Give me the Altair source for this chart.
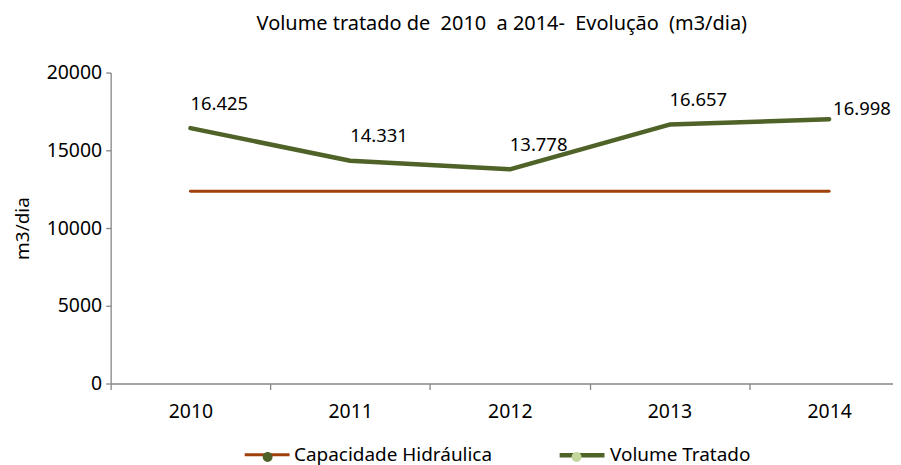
import altair as alt
import pandas as pd

years = [2010, 2011, 2012, 2013, 2014]
volume_tratado = [16425, 14331, 13778, 16657, 16998]
capacidade_hidraulica = [12370, 12370, 12370, 12370, 12370]
series = ["Capacidade Hidráulica", "Volume Tratado"]
line_colors = ["#A0400C", "#4F6228"]
marker_colors = ["#4F6228", "#C3D69B"]
y_ticks = [0, 5000, 10000, 15000, 20000]
x_boundaries = [2009.5, 2010.5, 2011.5, 2012.5, 2013.5]
title_text = "Volume tratado de\u00a0 2010\u00a0 a 2014-\u00a0 Evolução\u00a0 (m3/dia)"

FONT = "Noto Sans"
AXIS_GRAY = "#868686"
ZW = "\u200b"  # zero-width mark keeps the marker legend separate from the line legend

rows = []
for y, v in zip(years, capacidade_hidraulica):
    rows.append({"ano": y, "valor": v, "serie": series[0]})
for y, v in zip(years, volume_tratado):
    rows.append({"ano": y, "valor": v, "serie": series[1]})
df = pd.DataFrame(rows)
df["serie2"] = df["serie"] + ZW
df["rotulo"] = df["valor"].map(lambda v: f"{v:,}".replace(",", "."))

xscale = alt.Scale(domain=[2009.5, 2014.4], nice=False, zero=False)
yscale = alt.Scale(domain=[0, 20000], nice=False)

x_enc = alt.X(
    "ano:Q", scale=xscale,
    axis=alt.Axis(
        values=sorted(x_boundaries + years), title=None, grid=False,
        labelExpr="datum.value % 1 == 0 ? format(datum.value, 'd') : ''",
        tickSize=6, tickOpacity={"condition": {"test": "datum.value % 1 == 0", "value": 0}, "value": 1},
        domainColor=AXIS_GRAY, tickColor=AXIS_GRAY, domainWidth=1.3, tickWidth=1.3,
        labelPadding=13, labelFontSize=19.5, labelColor="#000000", labelFlush=False,
        labelOverlap=False,
    ),
)
y_enc = alt.Y(
    "valor:Q", scale=yscale,
    axis=alt.Axis(values=y_ticks, format="d", title="m3/dia", grid=False, tickSize=5,
                  domainColor=AXIS_GRAY, tickColor=AXIS_GRAY, labelPadding=4,
                  domainWidth=1.3, tickWidth=1.3, titlePadding=14,
                  labelFontSize=19.5, titleFontSize=19, titleFontWeight="normal",
                  labelColor="#000000", titleColor="#000000"),
)

legend_common = dict(
    orient="none", direction="horizontal", title=None,
    symbolSize=2025, labelFontSize=19, labelFont=FONT,
    labelOffset=3, labelLimit=400,
)

base = alt.Chart(df)

markers = base.mark_point(filled=True, size=1).encode(
    x=x_enc, y=y_enc,
    fill=alt.Fill("serie2:N",
                  scale=alt.Scale(domain=[s + ZW for s in series], range=marker_colors),
                  legend=alt.Legend(
                      symbolType="M0.22,0A0.22,0.22,0,1,1,-0.22,0A0.22,0.22,0,1,1,0.22,0Z",
                      symbolOpacity=1, symbolStrokeWidth=0, zindex=2,
                      labelOpacity=0, legendX=135, legendY=363, columnPadding=63,
                      **legend_common)),
)

lines = base.mark_line(strokeCap="round", strokeJoin="round").encode(
    x=x_enc, y=y_enc,
    color=alt.Color("serie:N", scale=alt.Scale(domain=series, range=line_colors),
                    legend=alt.Legend(symbolType="stroke", symbolStrokeWidth=3.5,
                                      zindex=1, labelColor="#000000",
                                      legendX=133, legendY=359, columnPadding=58,
                                      **legend_common)),
    strokeWidth=alt.StrokeWidth("serie:N", scale=alt.Scale(domain=series, range=[3, 4.5]),
                                legend=None),
    detail="serie:N",
)

vol = base.transform_filter(alt.datum.serie == series[1])

labels_a = vol.transform_filter(alt.datum.ano < 2014).mark_text(
    align="left", baseline="middle", dx=0, dy=-24.5, fontSize=18.5, font=FONT, color="#000000"
).encode(x=x_enc, y=y_enc, text="rotulo:N")

labels_b = vol.transform_filter(alt.datum.ano == 2014).mark_text(
    align="left", baseline="middle", dx=4, dy=-10, fontSize=18.5, font=FONT, color="#000000"
).encode(x=x_enc, y=y_enc, text="rotulo:N")

chart = alt.layer(markers, lines, labels_a, labels_b).properties(
    width=785,
    height=312,
    padding={"left": 5, "top": 5, "right": 0, "bottom": 0},
    title=alt.TitleParams(title_text, fontSize=20, fontWeight="normal", font=FONT,
                          anchor="middle", offset=29, color="#000000"),
).configure_view(stroke=None).configure_axis(
    labelFont=FONT, titleFont=FONT
)

chart.save("out.html", embed_options={"renderer": "svg", "actions": False})
